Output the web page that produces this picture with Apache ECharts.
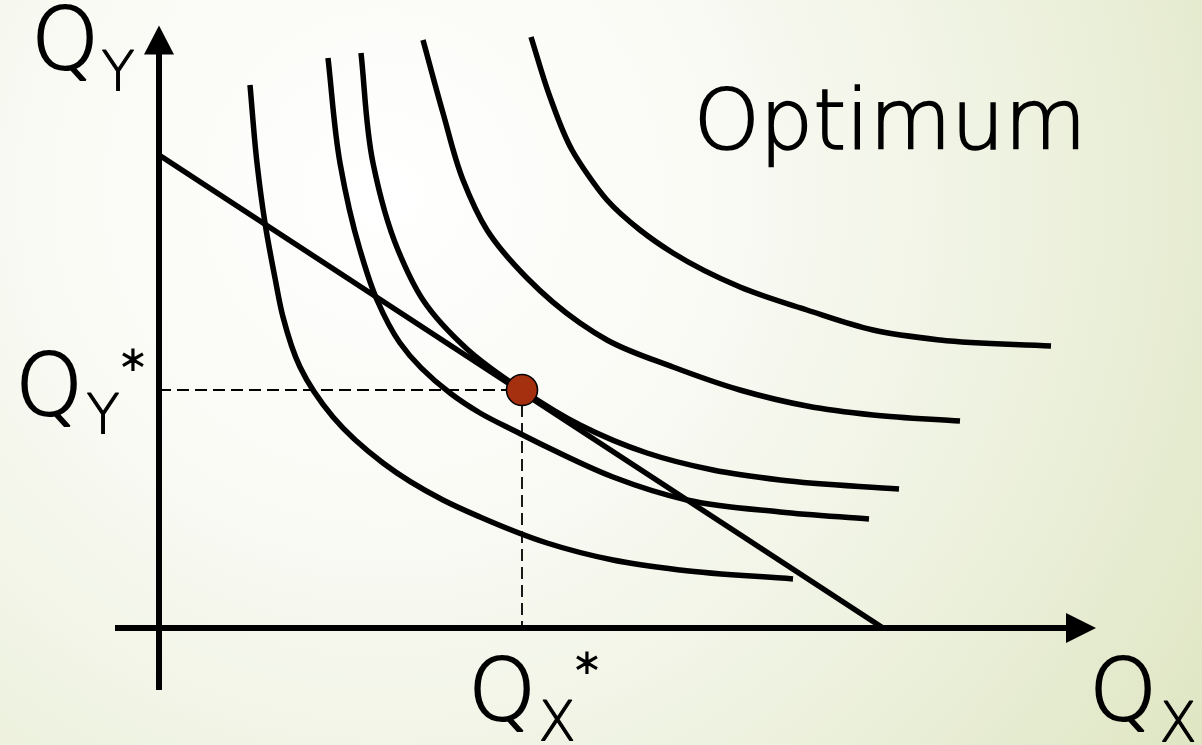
<!DOCTYPE html>
<html>
<head>
<meta charset="utf-8">
<script src="https://cdn.jsdelivr.net/npm/echarts@6/dist/echarts.min.js"></script>
<style>
  html, body { margin: 0; padding: 0; }
  #chart { width: 1202px; height: 745px; }
</style>
</head>
<body>
<div id="chart"></div>
<script>
// Indifference curves, lowest utility first: [Qx, Qy] pairs
const curveU1 = [[9.1, 54.3], [9.8, 46.5], [10.6, 40.5], [11.6, 35.0], [12.4, 31.1], [14.1, 26.1], [17.4, 21.1], [22.4, 16.5], [28.4, 12.8], [32.1, 11.1], [38.8, 8.5], [45.4, 6.8], [52.1, 5.8], [63.4, 4.9]];
const curveU2 = [[16.9, 57.0], [18.1, 46.5], [20.1, 37.8], [21.8, 32.8], [24.1, 28.5], [29.1, 23.5], [32.1, 21.5], [35.8, 19.6], [38.8, 18.1], [45.4, 15.1], [52.8, 12.8], [62.1, 11.6], [71.0, 10.9]];
const curveU3 = [[20.2, 57.5], [21.4, 46.5], [23.9, 37.8], [26.4, 32.8], [30.8, 27.9], [36.3, 23.8], [42.1, 20.3], [48.8, 17.5], [55.4, 15.8], [62.1, 14.8], [74.0, 13.9]];
const curveU4 = [[26.4, 58.8], [28.4, 51.5], [30.4, 44.8], [32.8, 39.8], [36.8, 35.0], [42.1, 30.5], [44.8, 28.8], [51.4, 26.1], [58.1, 23.8], [64.8, 22.2], [71.4, 21.3], [80.1, 20.7]];
const curveU5 = [[37.2, 59.1], [39.1, 53.1], [41.3, 47.8], [42.9, 45.3], [44.8, 42.8], [48.1, 39.8], [51.4, 37.5], [58.1, 34.1], [64.8, 31.8], [71.4, 29.8], [78.1, 28.8], [89.2, 28.2]];

// Budget line intercepts and the optimal bundle
const budgetLine = [[0, 47.3], [72.4, 0]];
const optimum = [36.3, 23.8];

// Axis extents
const xRange = [-4.4, 92.2];
const yRange = [-6.2, 58.8];

const FONT = 'DejaVu Sans';
const INK = '#000000';

// Smooth cubic path through pixel points, tangents weighted by chord length
function smoothPath(pts) {
  const n = pts.length;
  const sub = (a, b) => [a[0] - b[0], a[1] - b[1]];
  const len = v => Math.hypot(v[0], v[1]) || 1;
  const tangents = pts.map((p, i) => {
    if (i === 0) { const v = sub(pts[1], p); const l = len(v); return [v[0] / l, v[1] / l]; }
    if (i === n - 1) { const v = sub(p, pts[n - 2]); const l = len(v); return [v[0] / l, v[1] / l]; }
    const a = sub(p, pts[i - 1]), b = sub(pts[i + 1], p);
    const la = len(a), lb = len(b);
    const t = [(a[0] / la) * lb + (b[0] / lb) * la, (a[1] / la) * lb + (b[1] / lb) * la];
    const lt = len(t);
    return [t[0] / lt, t[1] / lt];
  });
  let d = 'M' + pts[0][0].toFixed(2) + ' ' + pts[0][1].toFixed(2);
  for (let i = 0; i < n - 1; i++) {
    const p1 = pts[i], p2 = pts[i + 1];
    const h = len(sub(p2, p1)) / 3;
    const c1 = [p1[0] + tangents[i][0] * h, p1[1] + tangents[i][1] * h];
    const c2 = [p2[0] - tangents[i + 1][0] * h, p2[1] - tangents[i + 1][1] * h];
    d += ' C' + c1[0].toFixed(2) + ' ' + c1[1].toFixed(2) + ' ' + c2[0].toFixed(2) + ' ' +
      c2[1].toFixed(2) + ' ' + p2[0].toFixed(2) + ' ' + p2[1].toFixed(2);
  }
  return d;
}

function curveSeries(data) {
  return {
    type: 'custom', coordinateSystem: 'cartesian2d', data: data, clip: false, silent: true, z: 3,
    encode: { x: 0, y: 1 },
    renderItem: function (params, api) {
      if (params.dataIndex !== 0) return null;
      const pts = data.map(p => api.coord(p));
      return {
        type: 'path',
        shape: { pathData: smoothPath(pts) },
        style: { stroke: INK, fill: null, lineWidth: 5.5, lineCap: 'butt', lineJoin: 'round' }
      };
    }
  };
}

const chart = echarts.init(document.getElementById('chart'), null, { renderer: 'canvas' });

chart.setOption({
  animation: false,
  backgroundColor: {
    type: 'radial', x: 0.32, y: 0.26, r: 1.32,
    colorStops: [
      { offset: 0, color: '#ffffff' },
      { offset: 0.35, color: '#f9faf4' },
      { offset: 0.65, color: '#eef2e0' },
      { offset: 1, color: '#dfe6c3' }
    ]
  },
  grid: { left: 115, top: 40, right: 121, bottom: 55, outerBoundsMode: 'none' },
  xAxis: {
    type: 'value', min: xRange[0], max: xRange[1],
    splitLine: { show: false }, axisTick: { show: false }, axisLabel: { show: false },
    axisLine: { onZero: true, symbol: ['none', 'triangle'], symbolSize: [30, 30],
      lineStyle: { color: INK, width: 6, cap: 'butt' } }
  },
  yAxis: {
    type: 'value', min: yRange[0], max: yRange[1],
    splitLine: { show: false }, axisTick: { show: false }, axisLabel: { show: false },
    axisLine: { onZero: true, symbol: ['none', 'triangle'], symbolSize: [30, 29],
      lineStyle: { color: INK, width: 6, cap: 'butt' } }
  },
  series: [
    curveSeries(curveU1),
    curveSeries(curveU2),
    curveSeries(curveU3),
    curveSeries(curveU4),
    curveSeries(curveU5),
    {
      type: 'line', data: budgetLine, symbol: 'none', silent: true,
      lineStyle: { color: INK, width: 5.5, cap: 'butt' }, z: 3
    },
    {
      type: 'line', data: [[0, optimum[1]], optimum, [optimum[0], 0]],
      symbol: 'none', silent: true,
      lineStyle: { color: INK, width: 1.8, type: [12, 6] }, z: 2
    },
    {
      type: 'scatter', data: [optimum], symbol: 'circle', symbolSize: 31, silent: true,
      itemStyle: { color: '#a5300f', borderColor: INK, borderWidth: 1.6, opacity: 1 }, z: 5
    }
  ]
});

// Axis titles and the optimum labels, placed from the axis geometry
const origin = chart.convertToPixel({ gridIndex: 0 }, [0, 0]);
const yTop = chart.convertToPixel({ gridIndex: 0 }, [0, yRange[1]]);
const xEnd = chart.convertToPixel({ gridIndex: 0 }, [xRange[1], 0]);
const optPx = chart.convertToPixel({ gridIndex: 0 }, optimum);

function txt(text, x, y, size, weight) {
  return {
    type: 'text', silent: true, z: 10,
    style: { text: text, x: x, y: y, fill: INK, stroke: INK, lineWidth: weight,
      font: '200 ' + size + 'px "' + FONT + '"',
      textAlign: 'center', textVerticalAlign: 'middle' }
  };
}

const QS = 86, SUB = 55, STAR = 44;

chart.setOption({
  graphic: [
    // Qy axis title
    txt('Q', yTop[0] - 94, yTop[1] + 7, QS, 1.8),
    txt('Y', yTop[0] - 41, yTop[1] + 36, SUB, 1.2),
    // Qx axis title
    txt('Q', xEnd[0] + 42, xEnd[1] + 70, QS, 1.8),
    txt('X', xEnd[0] + 97, xEnd[1] + 99, SUB, 1.2),
    // Qy*
    txt('Q', origin[0] - 110, optPx[1] + 3, QS, 1.8),
    txt('Y', origin[0] - 56, optPx[1] + 29, SUB, 1.2),
    txt('*', origin[0] - 26, optPx[1] - 18, STAR, 2.2),
    // Qx*
    txt('Q', optPx[0] - 20, origin[1] + 70, QS, 1.8),
    txt('X', optPx[0] + 35, origin[1] + 98, SUB, 1.2),
    txt('*', optPx[0] + 65, origin[1] + 47, STAR, 2.2),
    // Heading
    txt('Optimum', 890, 127, 84, 1.6)
  ]
});
</script>
</body>
</html>
